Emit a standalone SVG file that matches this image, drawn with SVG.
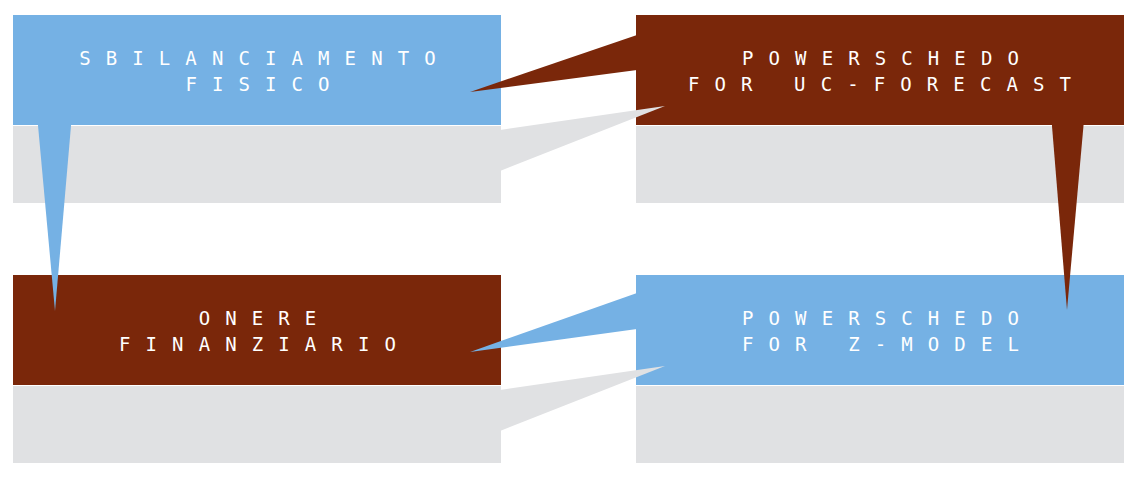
<svg xmlns="http://www.w3.org/2000/svg" width="1140" height="482" viewBox="0 0 1140 482">
<style>
.blue{fill:#75B1E4}
.brown{fill:#7A270A}
.gray{fill:#E0E1E3}
.lbl{font-family:"DejaVu Sans Mono","Liberation Mono",monospace;font-size:19px;fill:#FFFFFF;letter-spacing:15.1px;text-anchor:middle}
</style>
<rect width="1140" height="482" fill="#FFFFFF"/>
<g id="node-sbilanciamento">
<rect class="blue" x="13" y="15" width="488" height="110"/>
<rect class="gray" x="13" y="126" width="488" height="77"/>
<text class="lbl" x="265" y="64.5">SBILANCIAMENTO</text>
<text class="lbl" x="265" y="91">FISICO</text>
</g>
<g id="node-uc-forecast">
<rect class="brown" x="636" y="15" width="488" height="110"/>
<rect class="gray" x="636" y="126" width="488" height="77"/>
<text class="lbl" x="888" y="64.5">POWERSCHEDO</text>
<text class="lbl" x="887" y="91">FOR UC-FORECAST</text>
</g>
<g id="node-onere">
<rect class="brown" x="13" y="275" width="488" height="110"/>
<rect class="gray" x="13" y="386" width="488" height="77"/>
<text class="lbl" x="265" y="324.5">ONERE</text>
<text class="lbl" x="265" y="351">FINANZIARIO</text>
</g>
<g id="node-z-model">
<rect class="blue" x="636" y="275" width="488" height="110"/>
<rect class="gray" x="636" y="386" width="488" height="77"/>
<text class="lbl" x="888" y="324.5">POWERSCHEDO</text>
<text class="lbl" x="888" y="351">FOR Z-MODEL</text>
</g>
<g id="connectors">
<polygon class="brown" points="637,35 637,70 470,92"/>
<polygon class="gray" points="500,130 500,171 665,106"/>
<polygon class="blue" points="37.5,120 71.5,120 55,311"/>
<polygon class="brown" points="1051.5,120 1084,120 1067,310"/>
<polygon class="blue" points="637,293 637,329 470,352"/>
<polygon class="gray" points="500,390 500,431 665,366"/>
</g>
</svg>
